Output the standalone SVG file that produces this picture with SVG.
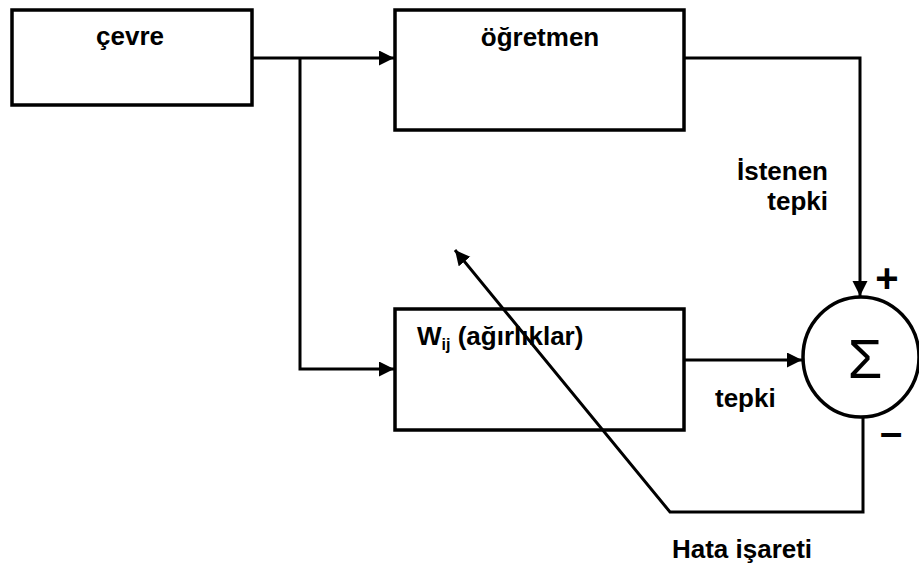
<svg xmlns="http://www.w3.org/2000/svg" width="919" height="567" viewBox="0 0 919 567">
  <style>
    .box { fill: #fff; stroke: #000; stroke-width: 3.5; }
    .ln { fill: none; stroke: #000; stroke-width: 3; }
    .t { font-family: "Liberation Sans", Arial, sans-serif; font-weight: bold; font-size: 26px; fill: #000; }
    .sign { font-family: "Liberation Sans", Arial, sans-serif; font-weight: bold; font-size: 40px; fill: #000; }
  </style>
  <defs>
    <marker id="ah" markerUnits="userSpaceOnUse" markerWidth="16" markerHeight="16" refX="15" refY="7.5" orient="auto">
      <path d="M0,0 L15,7.5 L0,15 z" fill="#000"/>
    </marker>
  </defs>
  <rect width="919" height="567" fill="#fff"/>

  <g id="cevre">
    <rect class="box" x="12" y="10" width="240" height="95"/>
    <text class="t" x="130" y="45" text-anchor="middle">çevre</text>
  </g>

  <g id="ogretmen">
    <rect class="box" x="395" y="10" width="289" height="120"/>
    <text class="t" x="540" y="46" text-anchor="middle">öğretmen</text>
  </g>

  <g id="agirliklar">
    <rect class="box" x="395" y="309" width="289" height="121"/>
    <text class="t" x="417" y="345">W<tspan font-size="16" dy="5">ij</tspan><tspan dy="-5"> (ağırlıklar)</tspan></text>
  </g>

  <g id="toplam">
    <ellipse class="box" cx="861" cy="357" rx="58" ry="60"/>
    <text x="865" y="378" text-anchor="middle" font-family="Liberation Sans, Arial, sans-serif" font-size="56">Σ</text>
  </g>

  <g id="connectors">
    <path class="ln" d="M252,58 H394" marker-end="url(#ah)"/>
    <path class="ln" d="M300,58 V369 H394" marker-end="url(#ah)"/>
    <path class="ln" d="M684,58 H860 V296" marker-end="url(#ah)"/>
    <path class="ln" d="M684,360 H802" marker-end="url(#ah)"/>
    <path class="ln" d="M863,417 V512 H670 L455,250" marker-end="url(#ah)"/>
  </g>

  <g id="labels">
    <text class="t" x="828" y="180" text-anchor="end">İstenen</text>
    <text class="t" x="828" y="210" text-anchor="end">tepki</text>
    <text class="t" x="715" y="407">tepki</text>
    <text class="t" x="742" y="558" text-anchor="middle">Hata işareti</text>
    <text class="sign" x="887" y="292" text-anchor="middle">+</text>
    <text class="sign" x="891" y="446" text-anchor="middle">–</text>
  </g>
</svg>
